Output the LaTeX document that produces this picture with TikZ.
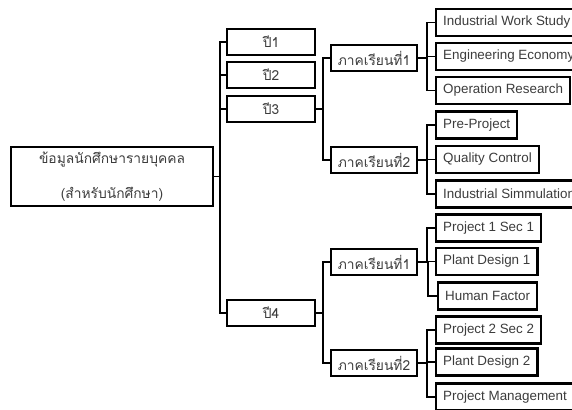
\documentclass[tikz,border=0pt]{standalone}
\usepackage{fontspec}
\setmainfont{Liberation Sans}
\newfontfamily\thaifont[Script=Thai]{Loma}
\definecolor{textgray}{RGB}{60,60,60}
\usetikzlibrary{calc}
\tikzset{
  box/.style={draw=black, line width=2.4pt, text=textgray, inner sep=0pt, font=\fontsize{13.4}{16}\selectfont},
  thaibox/.style={box, font=\thaifont\fontsize{13.8}{16}\selectfont},
  yearbox/.style={thaibox, minimum width=88pt, minimum height=26pt},
  termbox/.style={thaibox, minimum width=86pt, minimum height=26pt},
  coursebox/.style={box, anchor=west, minimum height=27pt, inner xsep=7pt},
  elbow/.style={to path={-| ($(\tikztostart)!.5!(\tikztotarget)$) |- (\tikztotarget)}},
  link/.style={draw=black, line width=1.8pt, elbow}
}

\begin{document}
\begin{tikzpicture}[x=1pt, y=-1pt]
  \useasboundingbox (0,0) rectangle (572,409);
  \clip (0,0) rectangle (572,409);

  \node[thaibox, minimum width=202pt, minimum height=59pt, align=center] (root) at (112,176.5) {ข้อมูลนักศึกษารายบุคคล\\[19pt](สำหรับนักศึกษา)};

  \node[yearbox] (y1) at (271,42) {ปี1};
  \node[yearbox] (y2) at (271,75) {ปี2};
  \node[yearbox] (y3) at (271,109) {ปี3};
  \node[yearbox] (y4) at (271,313) {ปี4};

  \node[termbox] (y3t1) at (374,58) {ภาคเรียนที่1};
  \node[termbox] (y3t2) at (374,160) {ภาคเรียนที่2};
  \node[termbox] (y4t1) at (374,262) {ภาคเรียนที่1};
  \node[termbox] (y4t2) at (374,363) {ภาคเรียนที่2};

  \node[coursebox] (iws) at (435,22.5) {Industrial Work Study};
  \node[coursebox] (eco) at (435,56.5) {Engineering Economy};
  \node[coursebox] (ors) at (435,90.5) {Operation Research};
  \node[coursebox] (pre) at (435,125) {Pre-Project};
  \node[coursebox] (qc) at (435,159.5) {Quality Control};
  \node[coursebox] (sim) at (435,194) {Industrial Simmulation};
  \node[coursebox] (pj1) at (435,228) {Project 1 Sec 1};
  \node[coursebox] (pd1) at (435,261.5) {Plant Design 1};
  \node[coursebox] (hf) at (437,296) {Human Factor};
  \node[coursebox] (pj2) at (435,330) {Project 2 Sec 2};
  \node[coursebox] (pd2) at (435,362) {Plant Design 2};
  \node[coursebox] (pm) at (435,397) {Project Management};

  \draw[link] (root.east) to (y1.west);
  \draw[link] (root.east) to (y2.west);
  \draw[link] (root.east) to (y3.west);
  \draw[link] (root.east) to (y4.west);

  \draw[link] (y3.east) to (y3t1.west);
  \draw[link] (y3.east) to (y3t2.west);
  \draw[link] (y4.east) to (y4t1.west);
  \draw[link] (y4.east) to (y4t2.west);

  \draw[link] (y3t1.east) to (iws.west);
  \draw[link] (y3t1.east) to (eco.west);
  \draw[link] (y3t1.east) to (ors.west);
  \draw[link] (y3t2.east) to (pre.west);
  \draw[link] (y3t2.east) to (qc.west);
  \draw[link] (y3t2.east) to (sim.west);
  \draw[link] (y4t1.east) to (pj1.west);
  \draw[link] (y4t1.east) to (pd1.west);
  \draw[link] (y4t1.east) to (hf.west);
  \draw[link] (y4t2.east) to (pj2.west);
  \draw[link] (y4t2.east) to (pd2.west);
  \draw[link] (y4t2.east) to (pm.west);
\end{tikzpicture}
\end{document}
